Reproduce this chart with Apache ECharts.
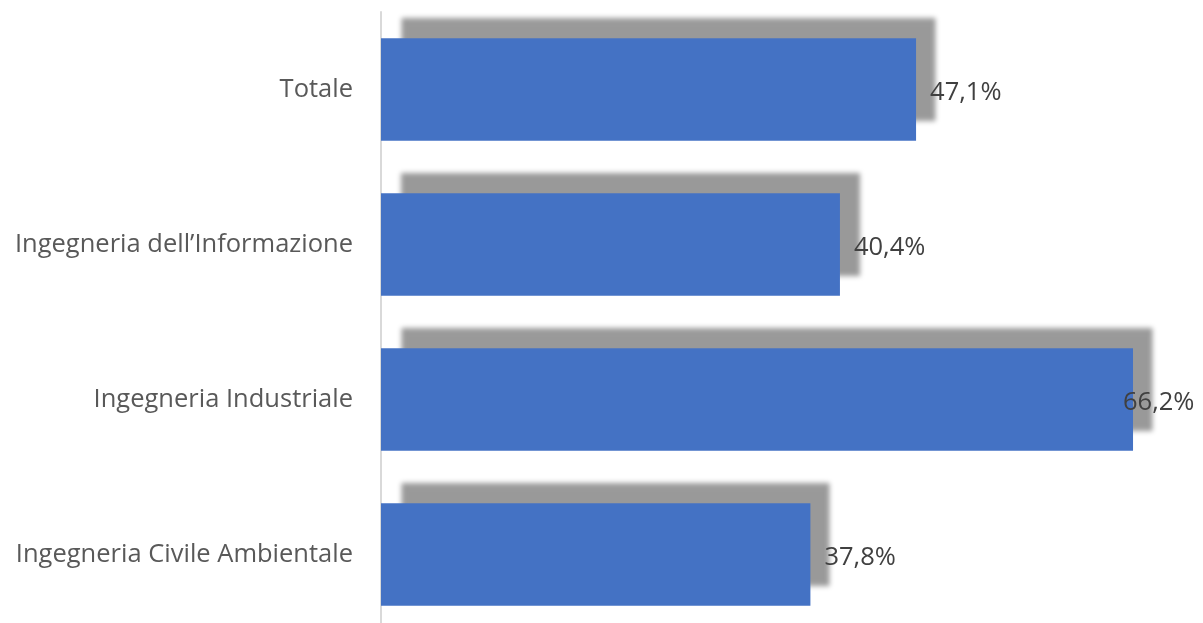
<!DOCTYPE html>
<html><head><meta charset="utf-8">
<script src="https://cdn.jsdelivr.net/npm/echarts@6/dist/echarts.min.js"></script>
<style>html,body{margin:0;padding:0;background:#fff;overflow:hidden;width:1203px;height:623px}#c{width:1203px;height:632px}</style>
</head><body><div id="c"></div>
<script>
const categories = ["Ingegneria Civile Ambientale", "Ingegneria Industriale", "Ingegneria dell\u2019Informazione", "Totale"];
const values = [37.8, 66.2, 40.4, 47.1];
const labelDistances = [14, -10, 14, 14];

const chart = echarts.init(document.getElementById('c'), null, {renderer: 'canvas'});
chart.setOption({
  animation: false,
  grid: {left: 381, right: 1203 - 381 - 66.2 * 11.36, top: 12, bottom: 0, containLabel: false},
  xAxis: {type: 'value', min: 0, max: 66.2, show: false},
  yAxis: {
    type: 'category', data: categories,
    axisLine: {show: true, lineStyle: {color: '#d9d9d9', width: 2}},
    axisTick: {show: false},
    axisLabel: {color: '#595959', fontSize: 25.5, fontFamily: 'Open Sans', margin: 28, padding: [3, 0, 0, 0]}
  },
  series: [{
    type: 'bar',
    data: values.map((v, i) => ({value: v, label: {distance: labelDistances[i]}})),
    barCategoryGap: '34%',
    itemStyle: {color: '#4472C4', shadowColor: 'rgba(0,0,0,0.4)', shadowBlur: 5, shadowOffsetX: 20, shadowOffsetY: -20},
    label: {
      show: true, position: 'right', color: '#404040', fontSize: 25.5, fontFamily: 'Open Sans',
      offset: [0, 3],
      formatter: p => p.value.toFixed(1).replace('.', ',') + '%'
    }
  }]
});
</script></body></html>
